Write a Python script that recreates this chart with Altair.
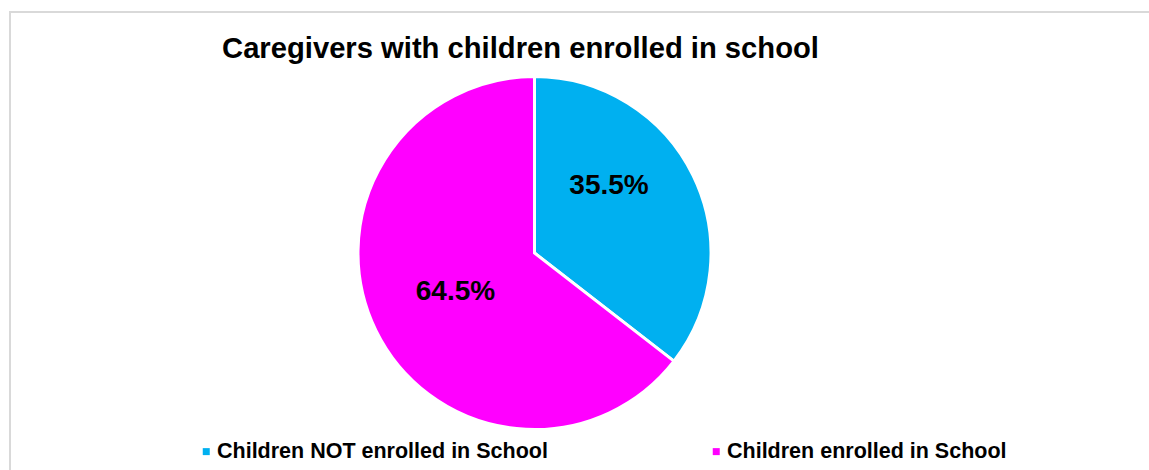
import altair as alt
import pandas as pd

categories = ["Children NOT enrolled in School", "Children enrolled in School"]
values = [35.5, 64.5]
labels = ["35.5%", "64.5%"]
colors = ["#00B0F0", "#FF00FF"]
order = [0, 1]
title_text = "Caregivers with children enrolled in school"

df = pd.DataFrame({"category": categories, "value": values, "label": labels, "order": order})

FONT = "Liberation Sans"
CX, CY, R = 534.5, 253, 176.5

color = alt.Color(
    "category:N",
    scale=alt.Scale(domain=categories, range=colors),
    legend=alt.Legend(
        title=None, orient="none", legendX=195.5, legendY=440.5,
        direction="horizontal", columns=2, columnPadding=157,
        symbolType="square", symbolSize=49, symbolStrokeWidth=0,
        labelFont=FONT, labelFontSize=21.5, labelFontWeight="bold",
        labelColor="black", labelOffset=0, labelLimit=700, padding=0,
    ),
)

theta_scale = alt.Scale(domain=[0, 100])

pie = alt.Chart(df).mark_arc(radius=R, stroke="white", strokeWidth=3).encode(
    theta=alt.Theta("value:Q", stack=True, scale=theta_scale),
    color=color,
    order=alt.Order("order:Q"),
    x=alt.value(CX),
    y=alt.value(CY),
)

lab_base = (
    alt.Chart(df)
    .transform_window(cum="sum(value)", sort=[alt.SortField("order")])
    .transform_calculate(mid="datum.cum - datum.value / 2")
)

def label_layer(idx, dx, dy):
    return lab_base.transform_filter(alt.datum.order == idx).mark_text(
        radius=88, font=FONT, fontSize=28, fontWeight="bold", color="black",
        align="center", baseline="middle", dx=dx, dy=dy,
    ).encode(
        theta=alt.Theta("mid:Q", scale=theta_scale),
        text="label:N",
        x=alt.value(CX),
        y=alt.value(CY),
    )

lab_blue = label_layer(0, -4.5, -28)
lab_mag = label_layer(1, 0, 0)

title = alt.Chart(pd.DataFrame({"t": [title_text]})).mark_text(
    font=FONT, fontSize=29.2, fontWeight="bold", color="black",
    align="center", baseline="alphabetic",
).encode(text="t:N", x=alt.value(520.5), y=alt.value(58))

one = pd.DataFrame({"a": [0]})
border_top = alt.Chart(one).mark_rule(color="#d9d9d9", strokeWidth=2).encode(
    x=alt.value(9), x2=alt.value(1149), y=alt.value(12)
)
border_left = alt.Chart(one).mark_rule(color="#d9d9d9", strokeWidth=2).encode(
    x=alt.value(10), y=alt.value(11), y2=alt.value(470)
)

chart = (
    alt.layer(border_top, border_left, pie, lab_blue, lab_mag, title)
    .properties(width=1149, height=470, padding=0,
                autosize=alt.AutoSizeParams(type="none"), background="white")
    .configure_view(stroke=None)
)

chart.save("out.html", embed_options={"renderer": "svg", "actions": False})
